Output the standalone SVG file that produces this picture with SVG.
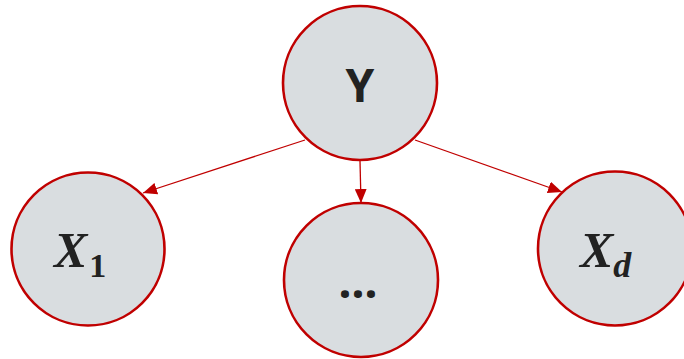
<svg xmlns="http://www.w3.org/2000/svg" width="684" height="359" viewBox="0 0 684 359">
  <style>
    .node { fill: #d9dde0; stroke: #c00000; stroke-width: 2.6; }
    .edge { stroke: #c00000; stroke-width: 1.3; fill: none; marker-end: url(#arrow); }
    .lbl { fill: #222222; }
    .sans { font-family: "Noto Sans", "Liberation Sans", sans-serif; font-weight: bold; }
    .math { font-family: "Liberation Serif", "DejaVu Serif", serif; font-weight: bold; font-style: italic; }
    .upright { font-style: normal; }
  </style>
  <defs>
    <marker id="arrow" viewBox="0 0 14 12" refX="14" refY="6" markerWidth="14" markerHeight="12" markerUnits="userSpaceOnUse" orient="auto">
      <path d="M0,0 L14,6 L0,12 Z" fill="#c00000"/>
    </marker>
  </defs>
  <rect width="684" height="359" fill="#ffffff"/>

  <g id="connectors">
    <line class="edge" x1="305" y1="140" x2="143" y2="193"/>
    <line class="edge" x1="360" y1="161" x2="361" y2="203"/>
    <line class="edge" x1="415" y1="140" x2="562" y2="192"/>
  </g>

  <g id="node-y">
    <circle class="node" cx="360" cy="83" r="77"/>
    <text class="lbl sans" x="360" y="102" font-size="46" text-anchor="middle">Y</text>
  </g>

  <g id="node-x1">
    <circle class="node" cx="88" cy="249" r="76.5"/>
    <text class="lbl math" x="54" y="267" font-size="50">X<tspan class="upright" font-size="34" dx="2" dy="10">1</tspan></text>
  </g>

  <g id="node-dots">
    <circle class="node" cx="361" cy="280" r="77"/>
    <text class="lbl sans" x="358" y="298" font-size="46" text-anchor="middle">...</text>
  </g>

  <g id="node-xd">
    <circle class="node" cx="615" cy="248.5" r="77"/>
    <text class="lbl math" x="580" y="267" font-size="50">X<tspan font-size="36" dy="10">d</tspan></text>
  </g>
</svg>
